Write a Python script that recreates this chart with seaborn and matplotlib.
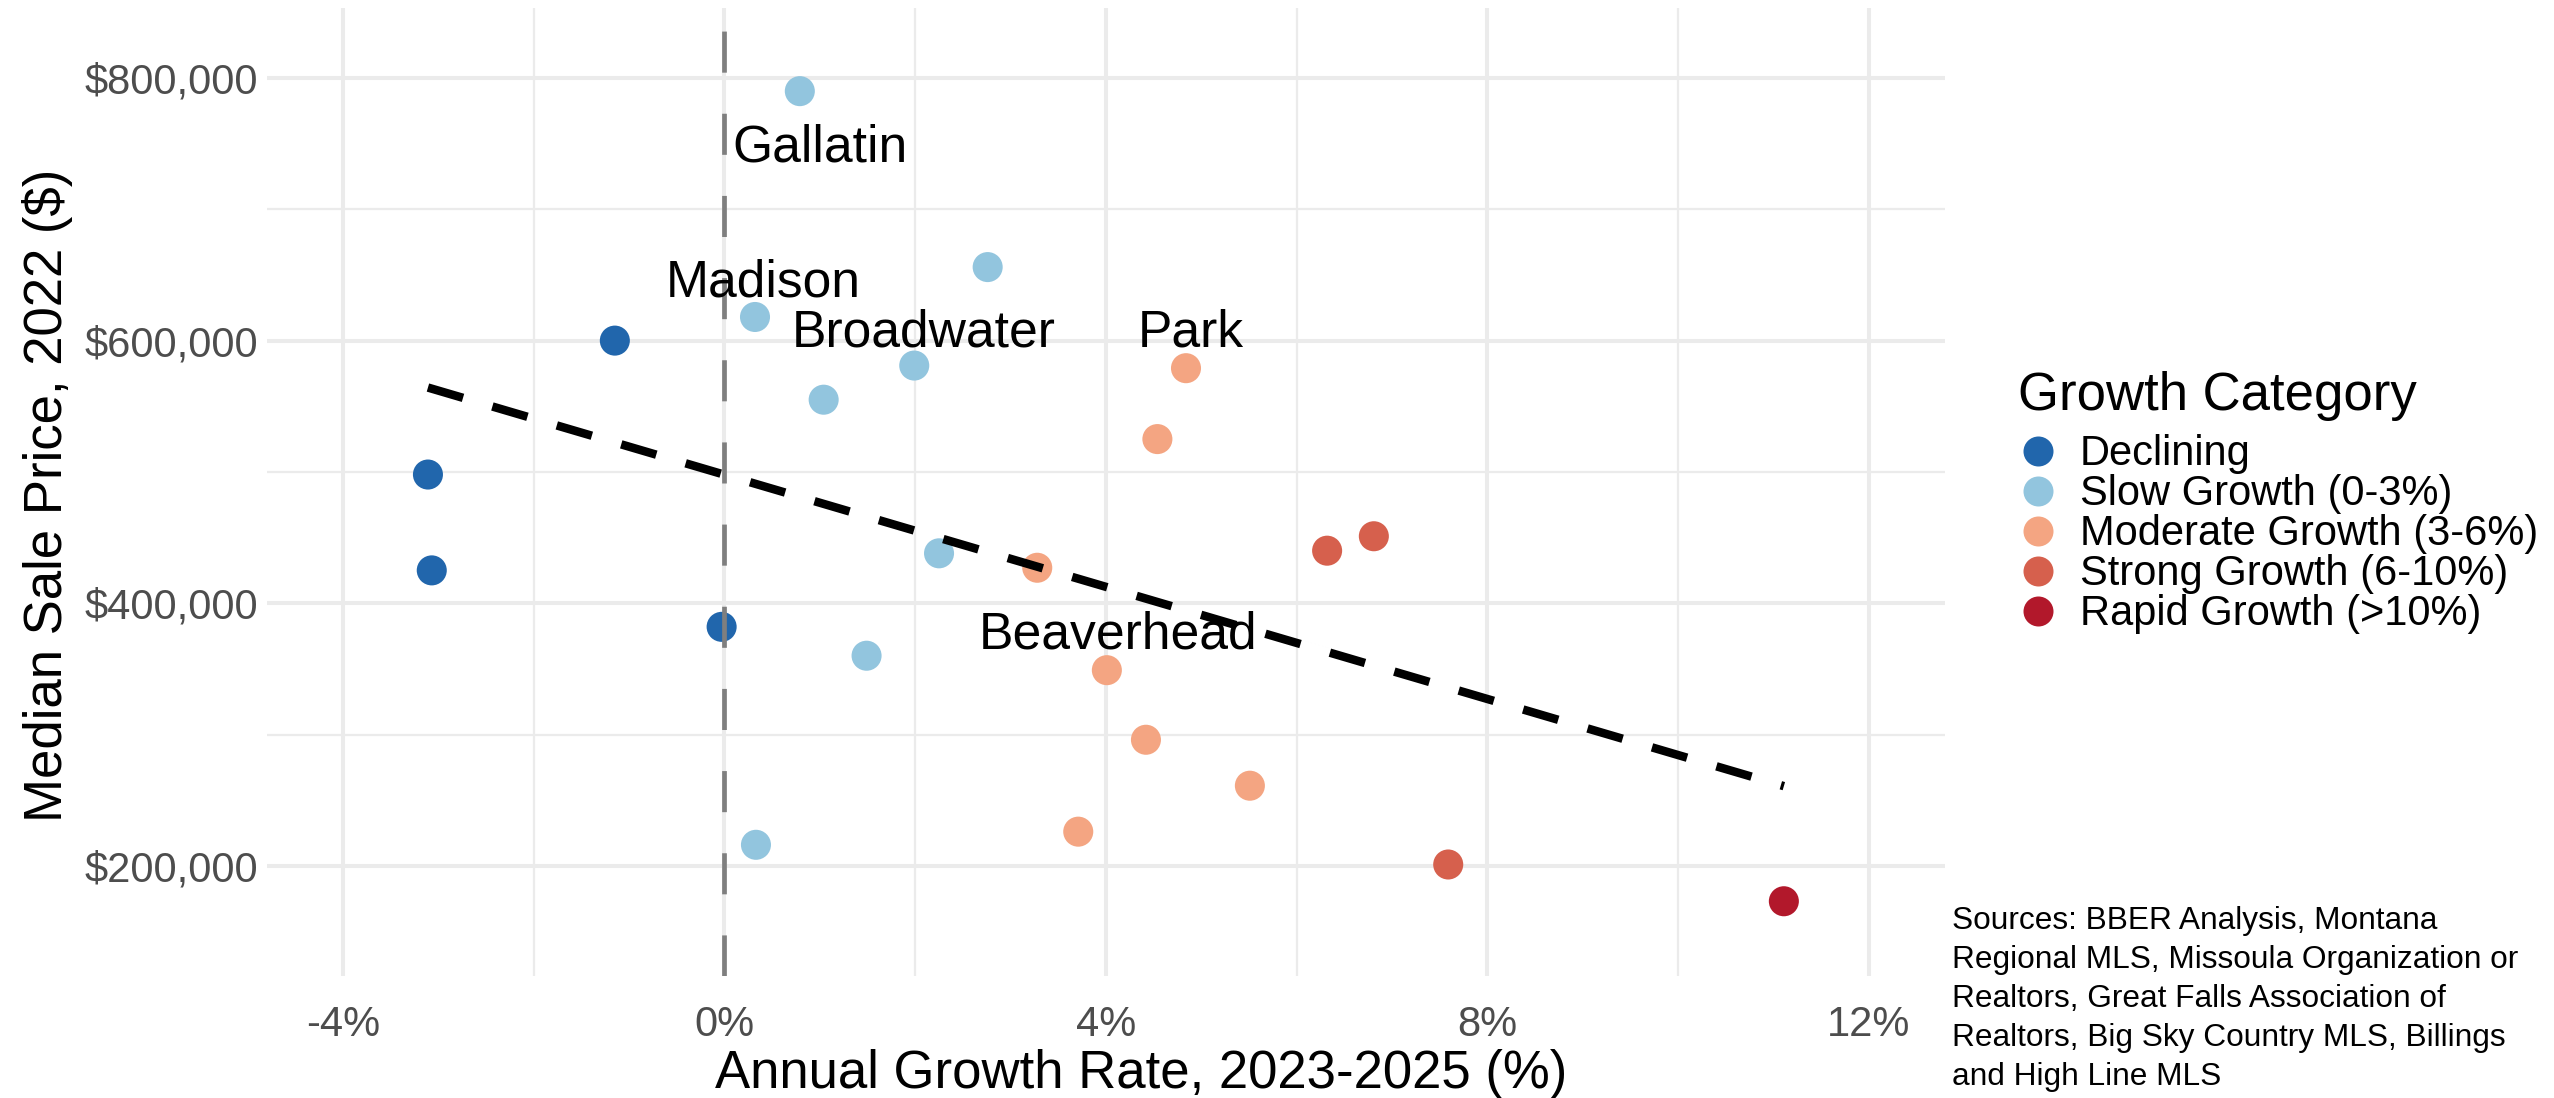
import numpy as np
import pandas as pd
import matplotlib
matplotlib.use("Agg")
import matplotlib.pyplot as plt
from matplotlib.lines import Line2D
from matplotlib.ticker import MultipleLocator, FuncFormatter
import seaborn as sns

# ---------------- data ----------------
growth = [0.79, 2.76, 0.32, -1.15, 1.99, 1.04, -3.11, -3.07, 2.25, -0.03, 1.49, 0.33,
          4.84, 4.54, 3.28, 6.32, 6.81, 4.01, 4.42, 5.51, 3.71, 7.59, 11.11]
price = [790000, 656000, 618000, 600000, 581000, 555000, 498000, 425000, 438000, 382000,
         360000, 216000, 579000, 525000, 427000, 440000, 451000, 349000, 296000, 261000,
         226000, 201000, 173000]
cat_code = ["S", "S", "S", "D", "S", "S", "D", "D", "S", "D", "S", "S",
            "M", "M", "M", "G", "G", "M", "M", "M", "M", "G", "R"]
categories = ["Declining", "Slow Growth (0-3%)", "Moderate Growth (3-6%)",
              "Strong Growth (6-10%)", "Rapid Growth (>10%)"]
cat_keys = ["D", "S", "M", "G", "R"]
colors = ["#2166AC", "#92C5DE", "#F4A582", "#D6604D", "#B2182B"]

label_names = ["Gallatin", "Madison", "Broadwater", "Park", "Beaverhead"]
label_point = [0, 2, 4, 12, 17]
label_dx = [0.21, 0.085, 0.10, 0.05, 0.12]
label_dy = [-53400, 15700, 14200, 16200, 16700]

sources = ("Sources: BBER Analysis, Montana\nRegional MLS, Missoula Organization or\n"
           "Realtors, Great Falls Association of\nRealtors, Big Sky Country MLS, Billings\n"
           "and High Line MLS")

# ---------------- style ----------------
sns.set_style("white")
plt.rcParams["font.family"] = ["Liberation Sans", "DejaVu Sans"]
plt.rcParams["axes.unicode_minus"] = False
plt.rcParams["text.color"] = "black"
plt.rcParams["axes.labelcolor"] = "black"

W, H, DPI = 2554, 1098, 200
fig = plt.figure(figsize=(W / DPI, H / DPI), dpi=DPI)
fig.patch.set_facecolor("white")

px_l, px_r, px_t, px_b = 266.8, 1945.0, 8.3, 975.5
ax = fig.add_axes([px_l / W, 1 - px_b / H, (px_r - px_l) / W, (px_b - px_t) / H])

df = pd.DataFrame({
    "growth": growth,
    "price": price,
    "category": [categories[cat_keys.index(c)] for c in cat_code],
})

sns.scatterplot(data=df, x="growth", y="price", hue="category", hue_order=categories,
                palette=colors, s=117, linewidth=0, legend=False, ax=ax, zorder=2)
sns.regplot(data=df, x="growth", y="price", scatter=False, ci=None, truncate=True, ax=ax,
            color="black",
            line_kws=dict(linewidth=3.06, linestyle=(0, (4.3, 3.6)),
                          dash_capstyle="butt", zorder=3))
ax.axvline(0, color="#7F7F7F", lw=1.7, linestyle=(0, (8.7, 8.7)),
           dash_capstyle="butt", zorder=4)

for name, i, dx, dy in zip(label_names, label_point, label_dx, label_dy):
    ax.text(growth[i] + dx, price[i] + dy, name, ha="center", va="baseline",
            fontsize=18.6, color="black", zorder=5)

# axes
ax.set_xlim(-4.8, 12.8)
ax.set_ylim(116450, 853100)
ax.xaxis.set_major_locator(MultipleLocator(4))
ax.xaxis.set_minor_locator(MultipleLocator(2))
ax.yaxis.set_major_locator(MultipleLocator(200000))
ax.yaxis.set_minor_locator(MultipleLocator(100000))
ax.xaxis.set_major_formatter(FuncFormatter(lambda v, p: f"{v:.0f}%"))
ax.yaxis.set_major_formatter(FuncFormatter(lambda v, p: f"${v:,.0f}"))
ax.set_axisbelow(True)
ax.grid(which="major", color="#EBEBEB", lw=1.45)
ax.grid(which="minor", color="#EBEBEB", lw=0.8)
for s in ax.spines.values():
    s.set_visible(False)
ax.tick_params(axis="x", which="both", length=0, pad=10.5, labelsize=15, labelcolor="#4D4D4D")
ax.tick_params(axis="y", which="both", length=0, pad=3, labelsize=15, labelcolor="#4D4D4D")

ax.set_xlabel("Annual Growth Rate, 2023-2025 (%)", fontsize=19, color="black")
ax.set_ylabel("Median Sale Price, 2022 ($)", fontsize=19, color="black")
ax.xaxis.set_label_coords((1141 - px_l) / (px_r - px_l), (px_b - 1049) / (px_b - px_t))
ax.yaxis.set_label_coords((73 - px_l) / (px_r - px_l), (px_b - 495.6) / (px_b - px_t))

# legend
handles = [Line2D([], [], marker="o", linestyle="none", markersize=10.8,
                  markerfacecolor=c, markeredgecolor="none") for c in colors]
leg = ax.legend(handles, categories, title="Growth Category", loc="upper left",
                bbox_to_anchor=(2018 / W, 1 - 371 / H), bbox_transform=fig.transFigure,
                frameon=False, borderpad=0, borderaxespad=0, fontsize=15,
                title_fontsize=19, handlelength=0.94, handletextpad=0.547,
                labelspacing=0.0, alignment="left")
leg.get_title().set_color("black")
for t in leg.get_texts():
    t.set_color("black")
try:
    leg._legend_box.sep = 4.8
except Exception:
    pass

fig.text(1952.5 / W, 1 - 906.5 / H, sources, fontsize=11.4, ha="left", va="top",
         linespacing=1.39, color="black")

fig.savefig("out.png", dpi=DPI, facecolor="white")
